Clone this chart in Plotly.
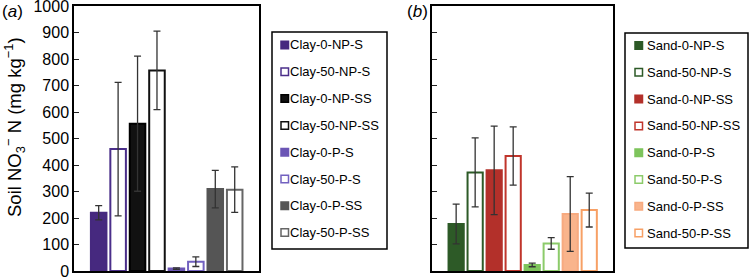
import plotly.graph_objects as go

W, H = 750, 277

clay_names = ["Clay-0-NP-S", "Clay-50-NP-S", "Clay-0-NP-SS", "Clay-50-NP-SS",
              "Clay-0-P-S", "Clay-50-P-S", "Clay-0-P-SS", "Clay-50-P-SS"]
clay_vals = [220, 460, 556, 757, 9, 35, 309, 307]
clay_errs = [27, 252, 255, 148, 3, 18, 71, 86]

sand_names = ["Sand-0-NP-S", "Sand-50-NP-S", "Sand-0-NP-SS", "Sand-50-NP-SS",
              "Sand-0-P-S", "Sand-50-P-S", "Sand-0-P-SS", "Sand-50-P-SS"]
sand_vals = [177, 372, 380, 434, 23, 104, 215, 230]
sand_errs = [75, 130, 167, 110, 7, 22, 141, 64]

clay_fill = ["#46297f", "#ffffff", "#111111", "#ffffff", "#6b55b5", "#ffffff", "#555555", "#ffffff"]
clay_line = ["#46297f", "#4b2f8a", "#000000", "#111111", "#6b55b5", "#7261c0", "#555555", "#666666"]
sand_fill = ["#2d5a27", "#ffffff", "#b3302a", "#ffffff", "#7ec45c", "#ffffff", "#f9b48c", "#ffffff"]
sand_line = ["#2d5a27", "#2d5a27", "#b3302a", "#c0352b", "#7ec45c", "#8ccb6a", "#f7aa80", "#f7a065"]

y_ticks = [0, 100, 200, 300, 400, 500, 600, 700, 800, 900, 1000]

FONT = "Liberation Sans, Arial, Helvetica, sans-serif"
ERR_COLOR = "#333333"


def px(x):
    return x / W


def py(y):
    return 1 - y / H


fig = go.Figure()

fig.add_trace(go.Bar(
    x=clay_names, y=clay_vals, width=0.8,
    marker=dict(color=clay_fill, line=dict(color=clay_line, width=2)),
    error_y=dict(type="data", array=clay_errs, color=ERR_COLOR, thickness=1.3, width=3.5),
    xaxis="x", yaxis="y", showlegend=False,
))
fig.add_trace(go.Bar(
    x=sand_names, y=sand_vals, width=0.8,
    marker=dict(color=sand_fill, line=dict(color=sand_line, width=2)),
    error_y=dict(type="data", array=sand_errs, color=ERR_COLOR, thickness=1.3, width=3.5),
    xaxis="x2", yaxis="y2", showlegend=False,
))

ax_common = dict(showline=True, linecolor="black", linewidth=1.5, mirror=True,
                 showgrid=False, zeroline=False, automargin=False)
xax = dict(showticklabels=False, ticks="", range=[-1.27, 8.25], **ax_common)
yax = dict(range=[0, 1000], tickvals=y_ticks, ticks="inside", ticklen=5,
           tickcolor="#222222", tickwidth=1, ticklabeloverflow="allow", **ax_common)

fig.update_layout(
    width=W, height=H,
    margin=dict(l=0, r=0, t=0, b=0, autoexpand=False),
    paper_bgcolor="white", plot_bgcolor="white",
    font=dict(family=FONT, color="black"),
    xaxis=dict(domain=[px(74), px(259)], anchor="y", **xax),
    yaxis=dict(domain=[py(271), py(6)], anchor="x", showticklabels=True,
               tickfont=dict(size=16, family=FONT, color="black"), **yax),
    xaxis2=dict(domain=[px(432), px(613)], anchor="y2", **xax),
    yaxis2=dict(domain=[py(271), py(6)], anchor="x2", showticklabels=False, **yax),
    bargap=0.2,
)

shapes = []
annotations = []


def add_legend(names, fills, lines, box, sw_x, txt_x, y0, step):
    x0b, x1b, y0b, y1b = box
    shapes.append(dict(type="rect", xref="paper", yref="paper",
                       x0=px(x0b), x1=px(x1b), y0=py(y1b), y1=py(y0b),
                       line=dict(color="black", width=1.5), fillcolor="rgba(0,0,0,0)"))
    for i, name in enumerate(names):
        yc = y0 + i * step
        shapes.append(dict(type="rect", xref="paper", yref="paper",
                           x0=px(sw_x), x1=px(sw_x + 7.5), y0=py(yc + 3.75), y1=py(yc - 3.75),
                           fillcolor=fills[i], line=dict(color=lines[i], width=1.5)))
        annotations.append(dict(text=name, xref="paper", yref="paper",
                                x=px(txt_x), y=py(yc), xanchor="left", yanchor="middle",
                                showarrow=False, font=dict(size=13, family=FONT, color="black")))


add_legend(clay_names, clay_fill, clay_line, (272, 387, 32, 249), 281, 288, 45, 26.8)
add_legend(sand_names, sand_fill, sand_line, (625, 748, 33, 248), 635, 645, 45.5, 26.8)

annotations.append(dict(text="Soil NO<sub>3</sub><sup>\u2212</sup> N (mg kg<sup>\u22121</sup>)",
                        xref="paper", yref="paper", x=px(14), y=py(127), textangle=-90,
                        xanchor="center", yanchor="middle", showarrow=False,
                        font=dict(size=18.5, family=FONT, color="black")))
annotations.append(dict(text="(<i>a</i>)", xref="paper", yref="paper", x=0, y=1,
                        xanchor="left", yanchor="top", showarrow=False,
                        font=dict(size=17, family=FONT, color="black")))
annotations.append(dict(text="(<i>b</i>)", xref="paper", yref="paper", x=px(405), y=1,
                        xanchor="left", yanchor="top", showarrow=False,
                        font=dict(size=17, family=FONT, color="black")))

fig.update_layout(shapes=shapes, annotations=annotations)

fig.write_html("out.html", config={"displayModeBar": False},
               post_script="document.body.style.margin='0';document.body.style.padding='0';")
